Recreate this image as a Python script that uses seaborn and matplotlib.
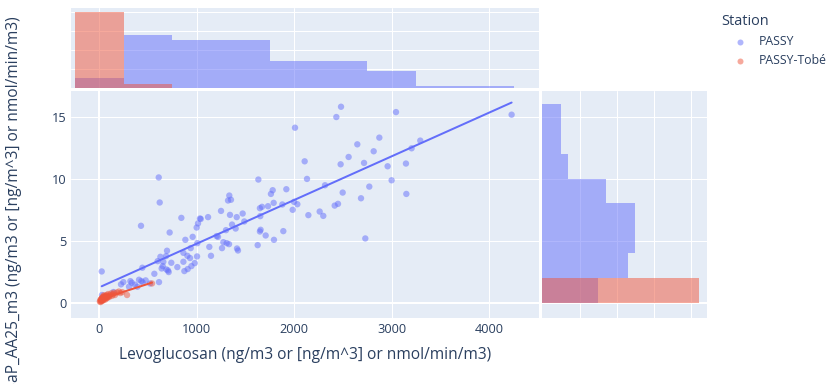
import numpy as np
import pandas as pd
import matplotlib
matplotlib.use("Agg")
import matplotlib.pyplot as plt
from matplotlib.lines import Line2D
import seaborn as sns

# ---- data -------------------------------------------------------------
stations = ["PASSY", "PASSY-Tobé"]

passy_levo = [24, 609, 619, 427, 841, 721, 694, 882, 957, 998,
              1012, 1032, 1115, 1005, 1002, 978, 937, 862, 903, 862,
              872, 906, 930, 800, 738, 704, 711, 656, 626, 684,
              639, 564, 612, 441, 222, 246, 318, 332, 407, 431,
              444, 390, 304, 144, 27, 1128, 1145, 1203, 1217, 1248,
              1258, 1272, 1299, 1306, 1330, 1320, 1333, 1340, 1361, 1398,
              1409, 1412, 1422, 1470, 1487, 1624, 1631, 1647, 1647, 1654,
              1651, 1668, 1706, 1730, 1760, 1778, 1788, 1791, 1877, 1887,
              1918, 1983, 1997, 2007, 2031, 2106, 2130, 2144, 2260, 2297,
              2315, 2414, 2448, 2431, 2479, 2475, 2496, 2557, 2646, 2684,
              2715, 2728, 2769, 2814, 2872, 2957, 2998, 3043, 3145, 3149,
              3203, 3292, 4229, 520, 365, 475, 650, 598, 688, 944,
              1040, 1350]
passy_bap = [2.52, 10.10, 8.08, 6.20, 6.84, 5.66, 4.19, 5.07, 5.31, 6.06,
             6.39, 6.79, 6.90, 4.80, 3.73, 3.19, 4.40, 4.02, 3.78, 3.30,
             2.55, 2.71, 3.60, 2.87, 3.22, 2.60, 2.47, 3.30, 3.70, 3.76,
             2.76, 2.33, 1.66, 2.82, 1.48, 1.66, 1.74, 1.61, 1.85, 1.74,
             1.64, 1.29, 1.29, 0.86, 0.62, 4.50, 3.78, 5.37, 5.31, 7.40,
             4.40, 4.88, 5.85, 4.80, 4.72, 8.24, 8.64, 7.08, 6.30, 5.98,
             6.90, 4.37, 4.21, 7.19, 6.55, 4.64, 9.93, 7.62, 5.74, 5.88,
             6.98, 7.73, 5.42, 7.78, 8.77, 9.07, 8.05, 5.07, 7.92, 5.77,
             9.15, 7.49, 8.13, 14.11, 7.94, 11.40, 9.98, 7.06, 7.35, 7.00,
             9.47, 7.83, 7.97, 14.97, 15.80, 11.16, 8.88, 11.75, 12.77, 8.42,
             11.27, 5.18, 9.36, 12.21, 13.31, 11.00, 9.87, 15.37, 11.22, 8.77,
             12.45, 13.07, 15.16, 1.55, 1.45, 1.80, 2.95, 3.35, 2.68, 2.95,
             6.75, 8.30]

tobe_levo = [5, 10, 12, 15, 18, 20, 22, 25, 28, 30,
             32, 35, 38, 40, 42, 45, 48, 50, 55, 58,
             60, 65, 70, 72, 75, 80, 85, 90, 95, 100,
             110, 120, 130, 140, 150, 160, 180, 200, 215, 235,
             284, 540]
tobe_bap = [0.10, 0.22, 0.05, 0.18, 0.30, 0.12, 0.25, 0.35, 0.20, 0.42,
            0.15, 0.28, 0.50, 0.32, 0.22, 0.45, 0.60, 0.30, 0.38, 0.52,
            0.25, 0.42, 0.55, 0.35, 0.62, 0.40, 0.48, 0.70, 0.52, 0.45,
            0.60, 0.75, 0.55, 0.68, 0.80, 0.62, 0.82, 0.90, 0.78, 0.85,
            0.62, 1.55]

x_ticks = [0, 1000, 2000, 3000, 4000]
y_ticks = [0, 5, 10, 15]
count_ticks = [10, 20, 30, 40]

x_title = "Levoglucosan (ng/m3 or [ng/m^3] or nmol/min/m3)"
y_title = "BaP_AA25_m3 (ng/m3 or [ng/m^3] or nmol/min/m3)"
legend_title = "Station"

colors = {"PASSY": "#636EFA", "PASSY-Tobé": "#EF553B"}

df = pd.DataFrame({
    "levo": passy_levo + tobe_levo,
    "bap": passy_bap + tobe_bap,
    "station": ["PASSY"] * len(passy_levo) + ["PASSY-Tobé"] * len(tobe_levo),
})

x_edges = np.arange(-250, 4251, 500)
y_edges = np.arange(0, 16.01, 2)

# ---- style ------------------------------------------------------------
sns.set_theme(style="white")
plt.rcParams["font.family"] = ["Open Sans", "DejaVu Sans"]

BG = "#E5ECF6"
TXT = "#2a3f5f"
PX = 0.72  # points per pixel at 100 dpi
FS_TICK = 12.8 * PX
FS_TITLE = 15.5 * PX
FS_LEG_TITLE = 14.5 * PX
FS_LEG = 12.2 * PX
W, H = 831, 384

fig = plt.figure(figsize=(W / 100, H / 100), dpi=100)


def box(x0, y0, x1, y1):
    return [x0 / W, 1 - y1 / H, (x1 - x0) / W, (y1 - y0) / H]


ax = fig.add_axes(box(71, 91, 539.3, 317.7))
ax_top = fig.add_axes(box(71, 8, 539.3, 88))
ax_right = fig.add_axes(box(542.3, 91, 706.7, 317.7))

for a in (ax, ax_top, ax_right):
    a.set_facecolor(BG)
    for s in a.spines.values():
        s.set_visible(False)
    a.grid(True, color="white", linewidth=1 * PX)
    a.set_axisbelow(True)
    a.tick_params(length=0, colors=TXT, labelsize=FS_TICK)

XLIM = (-291, 4513)
YLIM = (-1.21, 17.07)

# ---- main scatter with OLS trendlines -----------------------------------
ax.axhline(0, color="white", lw=2 * PX, zorder=0.6)
ax.axvline(0, color="white", lw=2 * PX, zorder=0.6)
sns.scatterplot(data=df, x="levo", y="bap", hue="station", hue_order=stations,
                palette=colors, alpha=0.5, s=21, linewidth=0, legend=False,
                ax=ax, zorder=2)
for st in stations:
    sub = df[df["station"] == st]
    slope, intercept = np.polyfit(sub["levo"], sub["bap"], 1)
    xs = np.array([sub["levo"].min(), sub["levo"].max()])
    ax.plot(xs, slope * xs + intercept, color=colors[st], lw=2 * PX, zorder=3)

ax.set_xlim(*XLIM)
ax.set_ylim(*YLIM)
ax.set_xticks(x_ticks)
ax.set_yticks(y_ticks)
ax.tick_params(axis="x", pad=4)
ax.tick_params(axis="y", pad=3)
ax.set_xlabel(x_title, fontsize=FS_TITLE, color=TXT)
ax.set_ylabel(y_title, fontsize=FS_TITLE, color=TXT)
ax.xaxis.label.set_va("center")
ax.yaxis.label.set_va("center")
ax.xaxis.set_label_coords(0.5, (317.7 - 355) / 226.7)
ax.yaxis.set_label_coords((14 - 71) / 468.3, 0.5)

# ---- marginal histograms ----------------------------------------------
for st in stations:
    sub = df[df["station"] == st]
    sns.histplot(x=sub["levo"], bins=x_edges, color=colors[st], alpha=0.5,
                 linewidth=0, edgecolor="none", ax=ax_top)
    sns.histplot(y=sub["bap"], bins=y_edges, color=colors[st], alpha=0.5,
                 linewidth=0, edgecolor="none", ax=ax_right)

ax_top.set_xlim(*XLIM)
ax_top.set_ylim(0, 42.1)
ax_top.set_xticks(x_ticks)
ax_top.set_yticks(count_ticks)
ax_top.set_xticklabels([])
ax_top.set_yticklabels([])
ax_top.set_xlabel("")
ax_top.set_ylabel("")

ax_right.axhline(0, color="white", lw=2 * PX, zorder=0.6)
ax_right.set_ylim(*YLIM)
ax_right.set_xlim(0, 44.1)
ax_right.set_yticks(y_ticks)
ax_right.set_xticks(count_ticks)
ax_right.set_xticklabels([])
ax_right.set_yticklabels([])
ax_right.set_xlabel("")
ax_right.set_ylabel("")

# ---- legend -------------------------------------------------------------
fig.text(721.7 / W, 1 - 21.3 / H, legend_title, fontsize=FS_LEG_TITLE, color=TXT,
         ha="left", va="center")
for i, st in enumerate(stations):
    yy = 1 - (41.7 + 19 * i) / H
    fig.add_artist(Line2D([740 / W], [yy], transform=fig.transFigure,
                          marker="o", markersize=6 * PX, linestyle="none",
                          color=colors[st], alpha=0.5, markeredgewidth=0))
    fig.text(759 / W, yy, st, fontsize=FS_LEG, color=TXT, ha="left", va="center")

fig.savefig("out.png", dpi=100)
